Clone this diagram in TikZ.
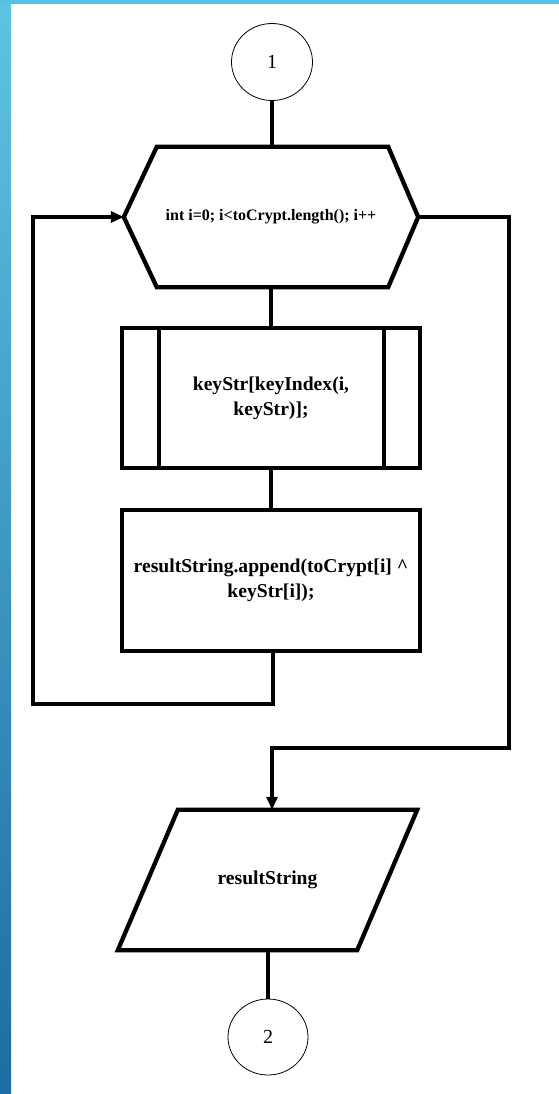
\documentclass[tikz,border=0pt]{standalone}
\usepackage{fontspec}
\setmainfont{Liberation Serif}
\usetikzlibrary{arrows.meta,shapes.geometric}
\definecolor{bandtop}{HTML}{56C1E1}
\definecolor{bandlow}{HTML}{1D6CA3}
\begin{document}
\begin{tikzpicture}[x=1pt,y=-1pt,
  flow/.style={line width=4.3pt,line join=miter},
  arrowline/.style={flow,-{Triangle[length=13pt,width=11pt]}},
  connector/.style={ellipse,draw,line width=0.8pt,minimum width=81pt,minimum height=77pt,inner sep=0pt,font=\fontsize{20}{22}\selectfont},
  boxframe/.style={rectangle,draw,flow,minimum width=298pt,minimum height=140pt,inner sep=0pt,align=center,font=\fontsize{19.6}{25}\selectfont\bfseries},
  ghost/.style={rectangle,minimum width=#1,minimum height=140pt,inner sep=0pt,align=center,font=\fontsize{19.6}{25}\selectfont\bfseries}
]
% page and side bands
\useasboundingbox (0,0) rectangle (559,1094);
\fill[white] (0,0) rectangle (559,1094);
\shade[top color=bandtop!95!white,bottom color=bandlow] (0,0) rectangle (11,1094);
\fill[bandtop] (0,0) rectangle (559,4);

% nodes
\node[connector] (start) at (272,62) {1};
\node[ghost=294pt,font=\fontsize{16}{18}\selectfont\bfseries] (loop) at (271,217) {int i=0; i<toCrypt.length(); i++};
\node[boxframe] (sub) at (271,398) {keyStr[keyIndex(i,\\keyStr)];};
\node[boxframe,minimum height=141pt] (proc) at (271,580.5) {resultString.append(toCrypt[i] \textasciicircum\\keyStr[i]);};
\node[ghost=299pt] (out) at (267.5,880) {resultString};
\node[connector,minimum width=80pt,minimum height=76pt] (stop) at (268,1037) {2};

% loop hexagon
\draw[flow] ([xshift=33pt]loop.north west) -- ([xshift=-30pt]loop.north east)
  -- (loop.east) -- ([xshift=-30pt]loop.south east)
  -- ([xshift=33pt]loop.south west) -- (loop.west) -- cycle;
% predefined-process side bars
\draw[flow] ([xshift=39pt]sub.north west) -- ([xshift=39pt]sub.south west);
\draw[flow] ([xshift=-38pt]sub.north east) -- ([xshift=-38pt]sub.south east);
% output parallelogram
\draw[flow] ([xshift=60pt]out.north west) -- (out.north east)
  -- ([xshift=-60pt]out.south east) -- (out.south west) -- cycle;

% connectors
\coordinate (loopTop) at (start.south |- loop.north);
\draw[flow] (start) -- (loopTop);
\draw[flow] (loop.south -| sub.north) -- (sub.north);
\draw[flow] (sub) -- (proc);
\coordinate (backA) at (273,704);
\coordinate (backB) at (33,704);
\draw[arrowline] (proc.south -| backA) -- (backA) -- (backB) -- (backB |- loop.west) -- (loop.west);
\coordinate (exitA) at (509,217);
\coordinate (exitB) at (509,748);
\coordinate (exitC) at (272,748);
\draw[arrowline] (loop.east) -- (exitA) -- (exitB) -- (exitC) -- (exitC |- out.north);
\draw[flow] (out.south -| stop.north) -- (stop.north);
\end{tikzpicture}
\end{document}
